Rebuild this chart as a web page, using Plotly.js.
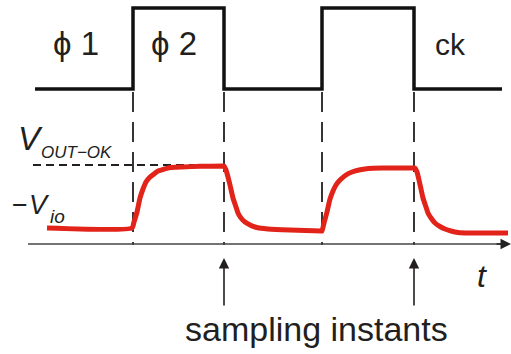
<!DOCTYPE html>
<html>
<head>
<meta charset="utf-8">
<script src="https://cdn.plot.ly/plotly-3.0.1.min.js"></script>
<style>html,body{margin:0;padding:0;background:#fff;}#chart{width:511px;height:354px;}</style>
</head>
<body>
<div id="chart"></div>
<script>
// Clock waveform (time, level) — diagram units (time → x, level → y, y grows downward)
var clockT = [35, 133, 133, 224, 224, 322, 322, 414, 414, 502];
var clockV = [89, 89, 8, 8, 89, 89, 8, 8, 89, 89];

// Output voltage response
var outT = [47, 132, 134, 137, 140, 143, 146, 150, 154, 158, 163, 168, 175, 182, 200, 223,
            224, 226, 228, 230, 233, 236, 238, 241, 245, 250, 255, 261, 268, 290, 321,
            322, 324, 327, 330, 333, 336, 340, 346, 352, 358, 365, 373, 382, 414,
            415, 417, 419, 421, 423, 426, 428, 431, 435, 440, 445, 451, 458, 470, 508];
var outV = [228, 228, 222, 212, 198, 189, 182, 177, 174, 171, 169.5, 168, 167.3, 167, 166.3, 166,
            166, 170, 177, 185, 198, 207, 213, 218, 222, 225, 227, 228.3, 229, 230, 231,
            231, 223, 212, 199, 191, 185, 180, 175, 172, 170.3, 169, 168.3, 168, 168,
            168, 172, 180, 189, 198, 207, 213, 218, 223, 226.5, 229, 231, 232.5, 233, 233];

// Clock edges (dashed markers) and sampling instants
var edgeT = [133, 224, 322, 414];
var sampleT = [224, 414];

// Levels
var vOutOk = 165;
var axisLevel = 244;
var edgeTop = 92;
var arrowTip = 258, arrowTail = 307;

var ink = '#231f20';
var fontFam = 'Liberation Sans, Arial, sans-serif';

var traces = [];
// dashed edge markers
edgeT.forEach(function (t) {
  traces.push({x: [t, t], y: [edgeTop, axisLevel + 1], mode: 'lines',
    line: {color: ink, width: 1.8, dash: '20px,10px'}, hoverinfo: 'skip'});
});
// V_OUT-OK dashed level
traces.push({x: [33, 224], y: [vOutOk, vOutOk], mode: 'lines',
  line: {color: ink, width: 1.8, dash: '8px,5px'}, hoverinfo: 'skip'});
// time axis
traces.push({x: [28, 505], y: [axisLevel, axisLevel], mode: 'lines',
  line: {color: '#444', width: 1.5}, hoverinfo: 'skip'});
// clock
traces.push({x: clockT, y: clockV, mode: 'lines',
  line: {color: '#111', width: 3.5, simplify: false}, hoverinfo: 'skip'});
// output
traces.push({x: outT, y: outV, mode: 'lines',
  line: {color: '#e2231a', width: 5, shape: 'spline', smoothing: 0.5, simplify: false}, hoverinfo: 'skip'});

var ann = [];
function txt(x, y, s, size, xa, italic) {
  ann.push({x: x, y: y, xref: 'x', yref: 'y', text: italic ? '<i>' + s + '</i>' : s,
    showarrow: false, xanchor: xa || 'center', yanchor: 'middle',
    font: {family: fontFam, size: size, color: ink}});
}
txt(76, 43, 'ϕ 1', 33);
txt(174, 43, 'ϕ 2', 33);
txt(450, 44, 'ck', 30);
txt(16, 138, 'V', 33, 'left', true);
txt(39, 152, 'OUT−OK', 17, 'left', true);
txt(10, 205, '−', 27, 'left', false);
txt(27, 205, 'V', 27, 'left', true);
txt(48, 216, 'io', 19, 'left', true);
txt(482, 276, 't', 32, 'center', true);
txt(316, 329, 'sampling instants', 34, 'center', false);

// sampling arrows
sampleT.forEach(function (t) {
  ann.push({x: t, y: arrowTip, ax: t, ay: arrowTail, xref: 'x', yref: 'y', axref: 'x', ayref: 'y',
    text: '', showarrow: true, arrowhead: 2, arrowsize: 1.3, arrowwidth: 1.6, arrowcolor: ink, standoff: 0});
});
// time axis arrowhead
ann.push({x: 511, y: axisLevel, ax: 495, ay: axisLevel, xref: 'x', yref: 'y', axref: 'x', ayref: 'y',
  text: '', showarrow: true, arrowhead: 2, arrowsize: 1.4, arrowwidth: 1.5, arrowcolor: '#222', standoff: 0});

var layout = {
  width: 511, height: 354,
  margin: {l: 0, r: 0, t: 0, b: 0},
  paper_bgcolor: '#fff', plot_bgcolor: '#fff',
  showlegend: false,
  xaxis: {range: [0, 511], visible: false, fixedrange: true},
  yaxis: {range: [354, 0], visible: false, fixedrange: true},
  annotations: ann
};
Plotly.newPlot('chart', traces, layout, {staticPlot: true, displayModeBar: false});
</script>
</body>
</html>
